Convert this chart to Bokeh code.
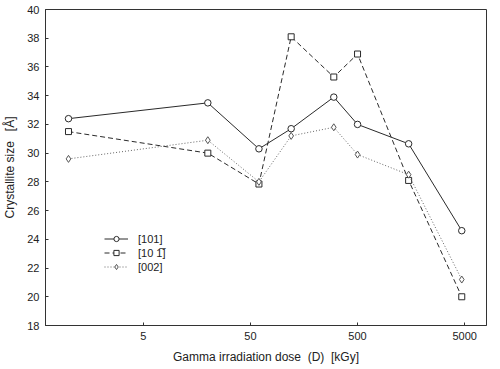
from bokeh.plotting import figure
from bokeh.models import FixedTicker, CustomJSTickFormatter, Legend, LegendItem, ColumnDataSource
from bokeh.embed import file_html
from bokeh.resources import INLINE

dose = [1, 20, 60, 120, 300, 500, 1500, 4700]
s101 = [32.4, 33.5, 30.3, 31.7, 33.9, 32.0, 30.65, 24.6]
s10m1 = [31.5, 30.0, 27.85, 38.1, 35.3, 36.9, 28.1, 20.0]
s002 = [29.6, 30.9, 28.0, 31.2, 31.8, 29.9, 28.5, 21.2]
labels = ["[101]", "[10\u00a01\u0305]", "[002]"]
xticks = [5, 50, 500, 5000]

FONT = "Liberation Sans"
NB = "\u00a0"

p = figure(width=490, height=366, x_axis_type="log", x_range=(0.61, 8000), y_range=(18, 40),
           output_backend="svg", toolbar_location=None,
           min_border_left=45, min_border_right=4, min_border_top=9, min_border_bottom=41)
p.grid.visible = False
p.outline_line_color = "#333333"
p.outline_line_width = 1
p.background_fill_color = "white"
p.border_fill_color = "white"

p.xaxis.ticker = FixedTicker(ticks=xticks)
p.xaxis.formatter = CustomJSTickFormatter(code="return String(Math.round(tick));")
p.yaxis.ticker = FixedTicker(ticks=list(range(18, 41, 2)))
for ax in (p.xaxis, p.yaxis):
    ax.minor_tick_line_color = None
    ax.major_tick_in = 3
    ax.major_tick_out = 0
    ax.axis_line_color = "#333333"
    ax.major_tick_line_color = "#333333"
    ax.major_label_text_font = FONT
    ax.major_label_text_font_size = "11px"
    ax.major_label_text_color = "#222222"
    ax.axis_label_text_font = FONT
    ax.axis_label_text_font_size = "12px"
    ax.axis_label_text_font_style = "normal"
    ax.axis_label_text_color = "#222222"
    ax.major_label_standoff = 6
    ax.axis_label_standoff = 7
p.xaxis.axis_label = "Gamma irradiation dose" + NB * 2 + "(D)" + NB * 2 + "[kGy]"
p.yaxis.axis_label = "Crystallite size" + NB * 3 + "[\u00c5]"

src = ColumnDataSource(dict(x=dose, a=s101, b=s10m1, c=s002))

l1 = p.line("x", "a", source=src, line_color="#2a2a2a", line_width=1)
m1 = p.scatter("x", "a", source=src, marker="circle", size=6.5, fill_color="white", line_color="#2a2a2a")
l2 = p.line("x", "b", source=src, line_color="#2a2a2a", line_width=1, line_dash="5 3")
m2 = p.scatter("x", "b", source=src, marker="square", size=6, fill_color="white", line_color="#2a2a2a")
l3 = p.line("x", "c", source=src, line_color="#666666", line_width=1, line_dash="1 2")
m3 = p.scatter("x", "c", source=src, marker="diamond", size=7, fill_color="white", line_color="#555555")

legend = Legend(items=[LegendItem(label=labels[0], renderers=[l1, m1]),
                       LegendItem(label=labels[1], renderers=[l2, m2]),
                       LegendItem(label=labels[2], renderers=[l3, m3])],
                location=(59, 52), orientation="vertical",
                background_fill_alpha=0, border_line_color=None,
                padding=0, margin=0, spacing=1, label_standoff=10,
                glyph_width=24, glyph_height=13, label_height=13,
                label_text_font=FONT, label_text_font_size="11px", label_text_color="#222222")
p.add_layout(legend, "center")

open("out.html", "w").write(file_html(p, INLINE))
